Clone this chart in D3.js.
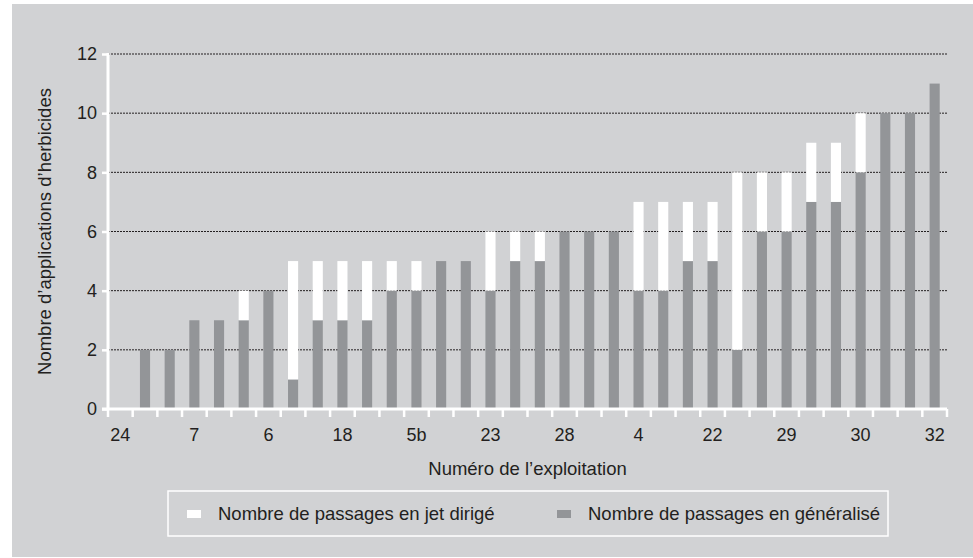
<!DOCTYPE html>
<html><head><meta charset="utf-8">
<script src="https://cdn.jsdelivr.net/npm/d3@7"></script>
<style>
html,body{margin:0;padding:0;background:#fff;}
svg{display:block;}
text{font-family:"Liberation Sans",Arial,sans-serif;fill:#231f20;}
</style></head>
<body>
<svg id="chart" width="973" height="558"></svg>
<script>
// Labels for the 34 farms (only every third is printed on the axis)
const labels = ["24","","","7","","","6","","","18","","","5b","","","23","","","28","","","4","","","22","","","29","","","30","","","32"];
// Number of general passes (grey)
const generalise = [0,2,2,3,3,3,4,1,3,3,3,4,4,5,5,4,5,5,6,6,6,4,4,5,5,2,6,6,7,7,8,10,10,11];
// Number of directed-jet passes (white), stacked on top
const jetDirige  = [0,0,0,0,0,1,0,4,2,2,2,1,1,0,0,2,1,1,0,0,0,3,3,2,2,6,2,2,2,2,2,0,0,0];
const yTicks = [0,2,4,6,8,10,12];
const legendItems = ["Nombre de passages en jet dirigé","Nombre de passages en généralisé"];

(function(){
const svg = d3.select("#chart");
const bg = "#d1d2d4", grey = "#939598", white = "#ffffff", ink = "#231f20";

svg.append("rect").attr("x",12).attr("y",4).attr("width",961).attr("height",553).attr("fill",bg);

const pLeft = 108, pRight = 947, pTop = 54, pBottom = 409;
const idx = d3.range(labels.length);
const x = d3.scaleBand().domain(idx).range([pLeft,pRight]).padding(0);
const y = d3.scaleLinear().domain([0,12]).range([pBottom,pTop]);
const bw = x.bandwidth(), barW = bw*0.41;

// grid
svg.append("g").selectAll("line").data(yTicks.filter(d=>d>0)).join("line")
  .attr("x1",pLeft).attr("x2",pRight).attr("y1",d=>y(d)).attr("y2",d=>y(d))
  .attr("stroke",ink).attr("stroke-width",1).attr("stroke-dasharray","2,1");

// bars
const bars = svg.append("g");
bars.selectAll("rect.g").data(idx.filter(i=>generalise[i]>0)).join("rect")
  .attr("x",i=>x(i)+(bw-barW)/2).attr("width",barW)
  .attr("y",i=>y(generalise[i])).attr("height",i=>y(0)-y(generalise[i]))
  .attr("fill",grey);
bars.selectAll("rect.w").data(idx.filter(i=>jetDirige[i]>0)).join("rect")
  .attr("x",i=>x(i)+(bw-barW)/2).attr("width",barW)
  .attr("y",i=>y(generalise[i]+jetDirige[i])).attr("height",i=>y(generalise[i])-y(generalise[i]+jetDirige[i]))
  .attr("fill",white);

// y axis
const yAxis = d3.axisLeft(y).tickValues(yTicks).tickSize(6).tickPadding(5).tickFormat(d3.format("d"));
const gy = svg.append("g").attr("transform",`translate(${pLeft},0)`).call(yAxis);
gy.select(".domain").remove();
gy.selectAll(".tick line").attr("stroke",white).attr("stroke-width",2.5);
gy.selectAll(".tick text").attr("font-size",18).attr("fill",ink).attr("font-family","Liberation Sans, Arial, sans-serif");
svg.append("line").attr("x1",pLeft).attr("x2",pLeft).attr("y1",pTop-1).attr("y2",pBottom+1)
  .attr("stroke",white).attr("stroke-width",3);

// x axis
svg.append("line").attr("x1",pLeft-6).attr("x2",pRight).attr("y1",pBottom).attr("y2",pBottom)
  .attr("stroke",white).attr("stroke-width",3);
const bounds = idx.map(i=>x(i)).concat([pRight]);
svg.append("g").selectAll("line").data(bounds).join("line")
  .attr("x1",d=>d).attr("x2",d=>d).attr("y1",pBottom).attr("y2",pBottom+8)
  .attr("stroke",white).attr("stroke-width",2.5);
svg.append("g").selectAll("text").data(idx.filter(i=>labels[i]!=="")).join("text")
  .attr("x",i=>x(i)+bw/2).attr("y",441).attr("text-anchor","middle").attr("font-size",18)
  .text(i=>labels[i]);

// titles
svg.append("text").attr("x",(pLeft+pRight)/2).attr("y",475).attr("text-anchor","middle")
  .attr("font-size",18.5).text("Numéro de l’exploitation");
svg.append("text").attr("transform",`translate(51,${(pTop+pBottom)/2}) rotate(-90)`)
  .attr("text-anchor","middle").attr("font-size",18.5).text("Nombre d’applications d’herbicides");

// legend
svg.append("rect").attr("x",168).attr("y",491).attr("width",720).attr("height",45)
  .attr("fill","none").attr("stroke",white).attr("stroke-width",1.5);
const lg = [{c:white,t:legendItems[0],x:187},{c:grey,t:legendItems[1],x:557}];
lg.forEach(d=>{
  svg.append("rect").attr("x",d.x).attr("y",510).attr("width",14).attr("height",8).attr("fill",d.c);
  svg.append("text").attr("x",d.x+31).attr("y",520).attr("font-size",18.5).text(d.t);
});
})();
</script>
</body></html>
